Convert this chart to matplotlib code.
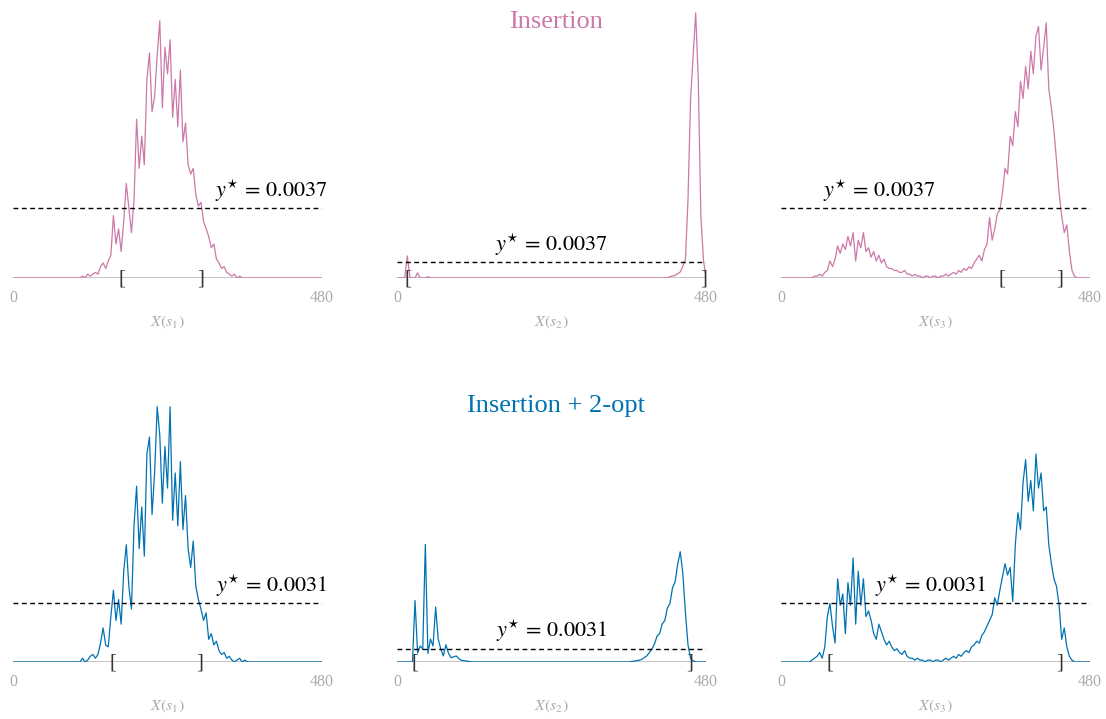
import numpy as np
import matplotlib
matplotlib.use("Agg")
import matplotlib.pyplot as plt

PINK = "#CC79A7"
BLUE = "#0072B2"
TICK_GREY = "#ababab"
BASE_GREY = "#c6c6c6"

# histogram bins (every 4 units of X(s)), densities stored in units of 1e-4
X_GRID = np.arange(0, 481, 4)
SCALE = 1e-4

# --------------------------------------------
# Insertion
# --------------------------------------------
INS_S1 = [0] * 27 + [
    1, 0, 2, 1, 2, 3, 2, 6, 8, 5,
    9, 12, 33, 18, 26, 14, 30, 50, 37, 24,
    41, 84, 58, 75, 60, 105, 119, 88, 96, 118,
    136, 90, 122, 108, 126, 85, 105, 80, 110, 72,
    82, 60, 55, 58, 44, 38, 40, 30, 26, 22,
    16, 18, 10, 8, 5, 6, 3, 2, 1, 2,
    0, 1,
] + [0] * 32

INS_S2 = [0, 0, 0, 0, 51, 2, 0, 0, 12, 0, 0, 0, 3] + [0] * 93 + [
    3, 5, 6, 10, 14, 27, 42, 180, 412, 513, 613, 458, 143, 42, 0,
]

INS_S3 = [0] * 13 + [
    1, 1, 2, 1, 3, 4, 9, 6, 10, 17,
    13, 18, 15, 22, 17, 24, 9, 20, 16, 24,
    14, 16, 11, 14, 9, 12, 8, 10, 6, 5,
    5, 4, 4, 3, 3, 4, 2, 2, 1, 2,
    1, 1, 0, 1, 1, 0, 1, 1, 0, 1,
    1, 2, 1, 2, 3, 2, 4, 3, 5, 4,
    6, 5, 8, 10, 12, 9, 15, 18, 32, 20,
    26, 34, 36, 45, 58, 55, 75, 70, 88, 80,
    104, 95, 112, 100, 120, 108, 128, 133, 110, 122,
    135, 100, 90, 78, 62, 45, 33, 24, 28, 14,
    4, 1,
] + [0] * 6

# --------------------------------------------
# Insertion + 2-opt
# --------------------------------------------
OPT_S1 = [0] * 27 + [
    2, 0, 1, 3, 4, 2, 4, 10, 18, 9,
    8, 24, 38, 22, 33, 20, 48, 62, 40, 28,
    72, 93, 60, 82, 56, 110, 119, 78, 100, 135,
    120, 84, 114, 92, 135, 75, 100, 72, 106, 70,
    88, 60, 50, 64, 40, 33, 28, 22, 26, 12,
    15, 9, 11, 6, 4, 5, 2, 3, 1, 0,
    1, 2, 0, 1,
] + [0] * 30

OPT_S2 = [0] * 7 + [
    142, 21, 37, 30, 272, 20, 53, 37, 127, 53,
    30, 14, 40, 20, 10, 12, 14, 8, 4, 3,
    2, 1,
] + [0] * 62 + [
    1, 2, 3, 4, 6, 10, 14, 22, 30, 42,
    60, 66, 88, 96, 125, 135, 172, 185, 226, 255,
    205, 115, 40, 8, 3,
] + [0] * 5

OPT_S3 = [0] * 12 + [
    1, 2, 3, 5, 2, 8, 24, 31, 19, 10,
    44, 30, 36, 15, 42, 30, 55, 20, 48, 30,
    44, 24, 27, 22, 15, 12, 20, 16, 12, 9,
    11, 8, 6, 7, 5, 4, 6, 3, 2, 2,
    1, 2, 1, 1, 0, 1, 1, 0, 1, 1,
    0, 1, 2, 1, 2, 3, 2, 4, 3, 5,
    6, 5, 8, 9, 11, 10, 14, 16, 19, 22,
    25, 34, 30, 38, 45, 52, 46, 50, 32, 62,
    79, 70, 95, 107, 85, 96, 80, 110, 92, 100,
    80, 82, 62, 52, 44, 40, 30, 12, 18, 8,
    3, 1,
] + [0] * 7

ROW_TITLES = ["Insertion", "Insertion + 2-opt"]
ROW_COLORS = [PINK, BLUE]
ROW_SERIES = [[INS_S1, INS_S2, INS_S3], [OPT_S1, OPT_S2, OPT_S3]]
Y_STAR = [0.0037, 0.0031]

# highest density intervals, one (low, high) pair per panel
INS_INTERVALS = [(169, 292), (17, 476), (343, 433)]
OPT_INTERVALS = [(156, 290), (28, 455), (76, 433)]
ROW_INTERVALS = [INS_INTERVALS, OPT_INTERVALS]

X_LABELS = [r"$X(s_1)$", r"$X(s_2)$", r"$X(s_3)$"]

# layout (figure pixels) and per-column y limits
COL_LEFT_PX = [13, 397, 781]
ROW_BASE_PX = [278, 662]
AX_W_PX, AX_H_PX = 309, 266
COL_YTOP = [0.01407, 0.0615, 0.01407]
ROW_LABEL_X = [[402, 240, 153], [402, 240, 233]]
TITLE_BASE_PX = [28, 412]

FIG_W, FIG_H = 1106, 719

plt.rcParams["font.family"] = ["Liberation Serif", "DejaVu Serif"]
plt.rcParams["mathtext.fontset"] = "stix"


def draw_panel(ax, values, color, ystar, interval, label_x, xlabel, ytop):
    y = np.array(values, dtype=float) * SCALE
    ax.axhline(0, color=BASE_GREY, lw=2.2, zorder=1)
    ax.plot(X_GRID, y, color=color, lw=0.9, zorder=2)
    ax.axhline(ystar, color="black", lw=1.0, ls=(0, (3.5, 2.5)), zorder=3)
    ax.annotate(rf"$y^{{\star}}\, =\, {ystar:.4f}$", xy=(label_x, ystar),
                xytext=(0, 8), textcoords="offset points",
                ha="center", va="baseline", fontsize=16, color="black")
    lo, hi = interval
    for xb, glyph in ((lo, "["), (hi, "]")):
        ax.annotate(glyph, xy=(xb, 0), xytext=(0, -1), textcoords="offset points",
                    ha="center", va="center", fontsize=15, color="#333333", zorder=4)

    ax.set_xlim(0, 480)
    ax.set_ylim(0, ytop)
    ax.set_xticks([0, 480])
    ax.set_yticks([])
    ax.tick_params(axis="x", length=0, pad=9, labelsize=11.5, labelcolor=TICK_GREY)
    ax.set_xlabel(xlabel, color=TICK_GREY, fontsize=11.5, labelpad=5)
    for s in ax.spines.values():
        s.set_visible(False)
    ax.patch.set_visible(False)


def main():
    fig = plt.figure(figsize=(FIG_W / 100, FIG_H / 100), dpi=100)

    for r in range(2):
        for c in range(3):
            rect = [COL_LEFT_PX[c] / FIG_W, 1 - ROW_BASE_PX[r] / FIG_H,
                    AX_W_PX / FIG_W, AX_H_PX / FIG_H]
            ax = fig.add_axes(rect)
            draw_panel(ax, ROW_SERIES[r][c], ROW_COLORS[r], Y_STAR[r],
                       ROW_INTERVALS[r][c], ROW_LABEL_X[r][c], X_LABELS[c],
                       COL_YTOP[c])

        fig.text(556 / FIG_W, 1 - TITLE_BASE_PX[r] / FIG_H, ROW_TITLES[r],
                 ha="center", va="baseline", fontsize=19, color=ROW_COLORS[r])

    fig.savefig("out.png", dpi=100)
    plt.close(fig)


if __name__ == "__main__":
    main()
